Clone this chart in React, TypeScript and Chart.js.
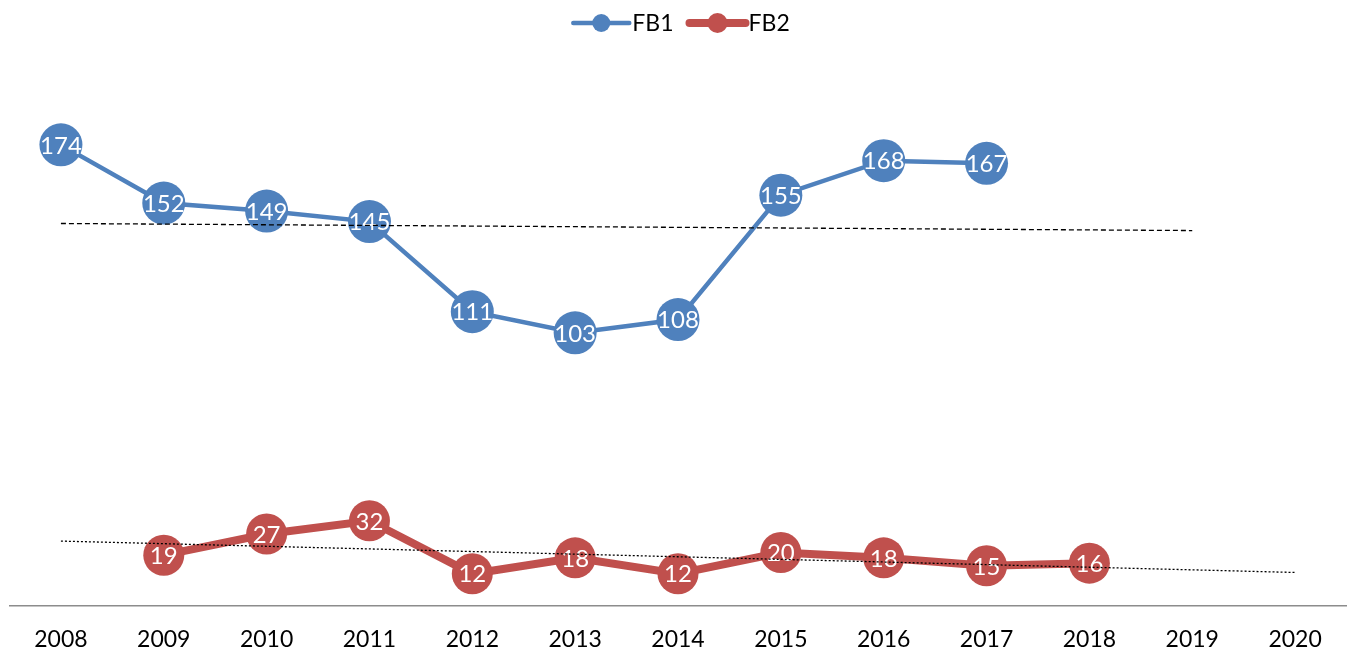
import React, { useEffect, useRef } from "react";
import { Chart, registerables } from "chart.js";

Chart.register(...registerables);

const years = ["2008", "2009", "2010", "2011", "2012", "2013", "2014", "2015", "2016", "2017", "2018", "2019", "2020"];
const fb1Values: (number | null)[] = [174, 152, 149, 145, 111, 103, 108, 155, 168, 167, null, null, null];
const fb2Values: (number | null)[] = [null, 19, 27, 32, 12, 18, 12, 20, 18, 15, 16, null, null];
// Excel-style linear trendline spans (index range on the category axis)
const fb1TrendSpan = [0, 11];
const fb2TrendSpan = [0, 12];

const FB1_COLOR = "#4F81BD";
const FB2_COLOR = "#C0504D";
const FONT = "Lato, 'Open Sans', sans-serif";

function linearTrend(values: (number | null)[], span: number[]): (number | null)[] {
  const pts: [number, number][] = [];
  values.forEach((v, i) => {
    if (v !== null) pts.push([i, v]);
  });
  const n = pts.length;
  const mx = pts.reduce((s, p) => s + p[0], 0) / n;
  const my = pts.reduce((s, p) => s + p[1], 0) / n;
  let sxy = 0;
  let sxx = 0;
  pts.forEach(([x, y]) => {
    sxy += (x - mx) * (y - my);
    sxx += (x - mx) * (x - mx);
  });
  const slope = sxy / sxx;
  const icpt = my - slope * mx;
  return values.map((_, i) => (i >= span[0] && i <= span[1] ? icpt + slope * i : null));
}

const labelsPlugin = {
  id: "pointLabels",
  afterDatasetDraw(chart: any, args: any) {
    const ds = chart.data.datasets[args.index];
    if (!ds.showLabels) return;
    const ctx = chart.ctx;
    ctx.save();
    ctx.fillStyle = "#FFFFFF";
    ctx.font = `24px ${FONT}`;
    ctx.textAlign = "center";
    ctx.textBaseline = "middle";
    args.meta.data.forEach((el: any, i: number) => {
      const v = ds.data[i];
      if (v === null || v === undefined) return;
      ctx.fillText(String(v), el.x, el.y + 1);
    });
    ctx.restore();
  },
};

const legendPlugin = {
  id: "customLegend",
  afterDraw(chart: any) {
    const ctx = chart.ctx;
    const items = [
      { text: "FB1", color: FB1_COLOR, lw: 4.5, r: 9 },
      { text: "FB2", color: FB2_COLOR, lw: 8, r: 10 },
    ];
    ctx.save();
    ctx.font = `23px ${FONT}`;
    ctx.textBaseline = "middle";
    const lineLen = 56;
    const gapText = 3;
    const gapItems = 16;
    const widths = items.map((it) => lineLen + gapText + ctx.measureText(it.text).width);
    const total = widths.reduce((a, b) => a + b, 0) + gapItems * (items.length - 1);
    let x = chart.width / 2 + 8 - total / 2;
    const y = 23;
    items.forEach((it, i) => {
      ctx.strokeStyle = it.color;
      ctx.lineWidth = it.lw;
      ctx.lineCap = "round";
      ctx.beginPath();
      ctx.moveTo(x, y);
      ctx.lineTo(x + lineLen, y);
      ctx.stroke();
      ctx.fillStyle = it.color;
      ctx.beginPath();
      ctx.arc(x + lineLen / 2, y, it.r, 0, Math.PI * 2);
      ctx.fill();
      ctx.fillStyle = "#000000";
      ctx.fillText(it.text, x + lineLen + gapText, y + 1);
      x += widths[i] + gapItems;
    });
    ctx.restore();
  },
};

export default function App() {
  const ref = useRef<HTMLCanvasElement | null>(null);

  useEffect(() => {
    if (!ref.current) return;
    const chart = new Chart(ref.current, {
      type: "line",
      data: {
        labels: years,
        datasets: [
          {
            label: "FB1 trend",
            data: linearTrend(fb1Values, fb1TrendSpan),
            borderColor: "#000000",
            borderWidth: 1.3,
            borderDash: [5, 3],
            pointRadius: 0,
            fill: false,
            order: 0,
          },
          {
            label: "FB2 trend",
            data: linearTrend(fb2Values, fb2TrendSpan),
            borderColor: "#000000",
            borderWidth: 1.3,
            borderDash: [2, 2],
            pointRadius: 0,
            fill: false,
            order: 0,
          },
          {
            label: "FB1",
            data: fb1Values,
            borderColor: FB1_COLOR,
            backgroundColor: FB1_COLOR,
            borderWidth: 4.5,
            pointRadius: 21.5,
            pointBackgroundColor: FB1_COLOR,
            pointBorderWidth: 0,
            fill: false,
            order: 2,
            showLabels: true,
          } as any,
          {
            label: "FB2",
            data: fb2Values,
            borderColor: FB2_COLOR,
            backgroundColor: FB2_COLOR,
            borderWidth: 8,
            pointRadius: 20.5,
            pointBackgroundColor: FB2_COLOR,
            pointBorderWidth: 0,
            fill: false,
            order: 1,
            showLabels: true,
          } as any,
        ],
      },
      options: {
        responsive: false,
        animation: false,
        devicePixelRatio: 1,
        layout: {
          autoPadding: false,
          padding: { top: 76, left: 9.5, right: 0.5, bottom: 0 },
        },
        plugins: {
          legend: { display: false },
          tooltip: { enabled: false },
        },
        scales: {
          x: {
            type: "category",
            offset: true,
            grid: { display: false, drawTicks: false },
            border: { display: true, color: "#8C8C8C", width: 1.5 },
            ticks: {
              color: "#000000",
              font: { family: FONT, size: 23 },
              padding: 20,
              maxRotation: 0,
              autoSkip: false,
            },
            afterFit: (scale: any) => {
              scale.height = 47.5;
            },
          },
          y: {
            display: false,
            min: 0,
            max: 200,
          },
        },
      },
      plugins: [labelsPlugin, legendPlugin],
    });
    return () => chart.destroy();
  }, []);

  return (
    <div style={{ position: "fixed", left: 0, top: 0, width: 1347, height: 653, background: "#fff" }}>
      <canvas ref={ref} width={1347} height={653} style={{ display: "block" }} />
    </div>
  );
}
